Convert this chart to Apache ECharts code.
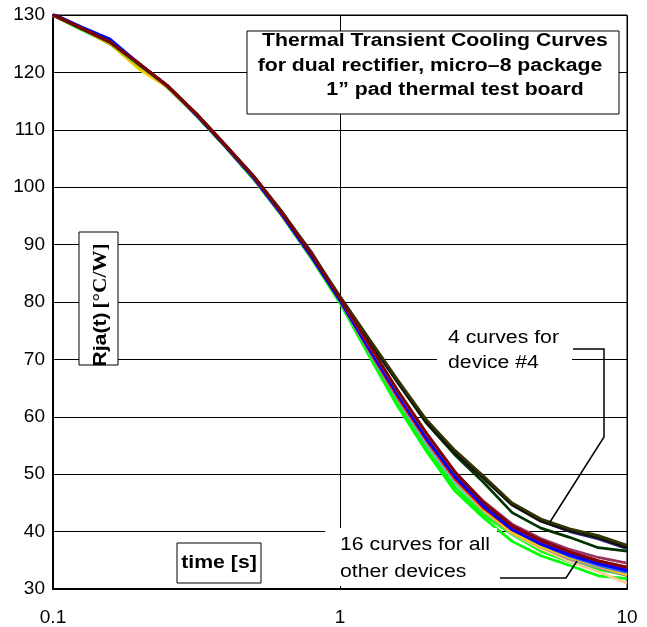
<!DOCTYPE html>
<html>
<head>
<meta charset="utf-8">
<script src="https://cdn.jsdelivr.net/npm/echarts@6/dist/echarts.min.js"></script>
<style>
  html, body { margin: 0; padding: 0; background: #fff; }
  #chart { width: 647px; height: 627px; }
</style>
</head>
<body>
<div id="chart"></div>
<script>
// time samples [s]
const times = [0.1, 0.126, 0.158, 0.2, 0.251, 0.316, 0.398, 0.501, 0.631, 0.794, 1, 1.26, 1.58, 2, 2.51, 3.16, 3.98, 5.01, 6.31, 7.94, 10];

// 16 curves for all other devices
const greenA = [130.0, 127.5, 125.0, 121.2, 117.3, 112.4, 107.0, 101.3, 94.8, 87.6, 79.8, 70.7, 62.0, 54.0, 47.1, 42.4, 38.3, 35.8, 34.1, 32.3, 31.8];
const greenB = [129.9, 127.4, 125.1, 121.1, 117.4, 112.5, 107.1, 101.4, 94.9, 87.8, 80.0, 71.0, 62.4, 54.4, 47.8, 42.9, 39.5, 36.6, 34.7, 33.4, 32.4];
const red = [130.0, 127.7, 125.3, 121.4, 117.6, 112.7, 107.3, 101.7, 95.2, 88.0, 80.3, 71.7, 63.6, 55.9, 49.2, 44.1, 40.3, 38.1, 36.3, 34.9, 33.7];
const blue = [130.2, 127.9, 125.8, 121.5, 117.6, 112.5, 107.1, 101.5, 95.0, 87.9, 80.2, 71.9, 64.0, 56.2, 49.6, 44.4, 40.3, 37.8, 35.9, 34.4, 33.2];
const maroon = [130.1, 127.7, 125.3, 121.5, 117.7, 112.8, 107.4, 101.9, 95.4, 88.3, 80.7, 72.7, 64.8, 57.2, 50.5, 45.1, 41.0, 38.5, 36.5, 34.9, 33.8];
const mauve = [130.0, 127.6, 125.3, 121.4, 117.5, 112.7, 107.3, 101.7, 95.3, 88.8, 80.6, 72.5, 64.6, 57.0, 50.4, 45.3, 41.3, 38.8, 36.9, 35.5, 34.5];
const orange = [130.0, 127.5, 125.2, 121.6, 117.4, 112.6, 107.2, 101.6, 95.0, 88.1, 80.4, 72.2, 64.4, 56.7, 50.1, 45.0, 41.0, 38.5, 36.4, 34.8, 33.5];
const grey = [129.9, 127.6, 125.1, 121.3, 117.4, 112.5, 107.1, 101.5, 95.0, 87.9, 80.2, 71.4, 63.2, 55.2, 48.6, 43.6, 39.7, 37.3, 35.2, 33.7, 32.3];
const tan = [130.0, 127.6, 125.2, 121.3, 117.5, 112.6, 107.2, 101.5, 95.1, 88.0, 80.3, 71.6, 63.4, 55.5, 48.8, 43.6, 39.6, 37.0, 34.8, 33.0, 31.0];
const yellowGreen = [130.0, 127.6, 124.9, 121.0, 117.6, 112.8, 107.2, 101.6, 95.1, 87.9, 80.3, 71.8, 63.7, 56.0, 49.4, 44.4, 40.5, 38.2, 36.3, 34.9, 33.8];
const gold = [130.0, 127.6, 125.0, 120.5, 117.4, 112.5, 107.1, 101.5, 95.0, 87.9, 80.3, 72.0, 63.9, 56.0, 49.1, 43.8, 39.8, 37.4, 35.5, 34.0, 32.5];
const purple = [130.0, 127.7, 125.3, 121.5, 117.6, 112.7, 107.3, 101.7, 95.2, 88.1, 80.5, 72.4, 64.4, 56.7, 50.0, 44.7, 40.7, 38.2, 36.1, 34.6, 33.4];
const royalBlue = [130.0, 127.6, 125.2, 121.3, 117.5, 112.6, 107.2, 101.6, 95.1, 88.0, 80.4, 72.1, 64.0, 56.1, 49.3, 44.2, 40.4, 37.8, 35.7, 34.1, 32.9];
const pink = [130.0, 127.5, 125.1, 121.2, 117.4, 112.5, 107.1, 101.5, 95.0, 87.9, 80.3, 71.7, 63.6, 55.8, 49.1, 43.9, 40.1, 37.7, 35.6, 34.0, 32.6];
const teal = [130.0, 127.6, 125.2, 121.2, 117.5, 112.5, 107.1, 101.5, 95.0, 87.9, 80.2, 71.5, 63.3, 55.4, 48.7, 43.7, 40.0, 37.6, 35.6, 34.0, 32.7];
const lightOrange = [130.0, 127.6, 125.2, 121.3, 117.5, 112.6, 107.2, 101.6, 95.1, 88.0, 80.4, 72.3, 64.3, 56.6, 49.9, 44.6, 40.8, 38.4, 36.3, 34.8, 33.6];

// 4 curves for device #4
const dev4Black = [130.1, 127.7, 125.3, 121.4, 117.6, 112.8, 107.4, 101.9, 95.5, 88.5, 80.8, 73.4, 66.3, 59.1, 53.8, 49.3, 44.6, 41.8, 40.1, 38.9, 37.2];
const dev4Olive = [130.0, 127.7, 125.3, 121.4, 117.6, 112.8, 107.4, 101.9, 95.6, 88.6, 81.0, 73.7, 66.6, 59.5, 54.2, 49.7, 45.0, 42.2, 40.5, 39.3, 37.6];
const dev4Navy = [130.1, 127.8, 125.4, 121.5, 117.6, 112.8, 107.3, 101.9, 95.5, 88.5, 80.8, 73.5, 66.4, 59.3, 54.0, 49.5, 44.8, 41.9, 40.0, 38.7, 37.0];
const dev4Green = [130.0, 127.6, 125.3, 121.4, 117.6, 112.7, 107.3, 101.8, 95.4, 88.4, 80.7, 73.2, 66.1, 58.9, 53.4, 48.6, 43.3, 40.6, 39.0, 37.2, 36.6];

const yTicks = { min: 30, max: 130, step: 10 };

// draw order: first drawn ends up underneath
const curves = [
  ['greenA', '#00ff00', greenA],
  ['greenB', '#00ff00', greenB],
  ['tan', '#ffcc99', tan],
  ['grey', '#969696', grey],
  ['teal', '#33cccc', teal],
  ['pink', '#ff99cc', pink],
  ['gold', '#ffcc00', gold],
  ['yellowGreen', '#99cc00', yellowGreen],
  ['royalBlue', '#3366ff', royalBlue],
  ['lightOrange', '#ff9900', lightOrange],
  ['red', '#ff0000', red],
  ['orange', '#ff6600', orange],
  ['purple', '#800080', purple],
  ['blue', '#0000ff', blue],
  ['mauve', '#993366', mauve],
  ['dev4Green', '#003300', dev4Green],
  ['dev4Navy', '#333399', dev4Navy],
  ['dev4Black', '#111111', dev4Black],
  ['dev4Olive', '#333300', dev4Olive],
  ['maroon', '#800000', maroon]
];

const sans = 'Liberation Sans, Arial, sans-serif';
const serif = 'Liberation Serif, Times New Roman, serif';
const stretch = 1.18;

const chart = echarts.init(document.getElementById('chart'), null, { renderer: 'canvas' });

const txt = (x, y, text, opts) => Object.assign({
  type: 'text',
  x: x,
  y: y,
  z: 20,
  scaleX: stretch,
  style: Object.assign({
    text: text,
    fill: '#000',
    font: '18px ' + sans,
    textAlign: 'left',
    textVerticalAlign: 'middle'
  }, opts && opts.style)
}, opts && opts.el);

const box = (x, y, w, h, stroke) => ({
  type: 'rect',
  z: 10,
  shape: { x: x, y: y, width: w, height: h },
  style: { fill: '#fff', stroke: stroke ? '#000' : null, lineWidth: 1 }
});

const option = {
  animation: false,
  backgroundColor: '#fff',
  grid: {
    left: 53,
    right: 20,
    top: 15,
    bottom: 38,
    show: true,
    borderColor: '#000',
    borderWidth: 1,
    backgroundColor: 'transparent'
  },
  xAxis: {
    type: 'log',
    logBase: 10,
    min: 0.1,
    max: 10,
    axisLine: { show: true, lineStyle: { color: '#000', width: 2 } },
    axisTick: { show: false },
    minorTick: { show: false },
    splitLine: { show: true, lineStyle: { color: '#000', width: 1 } },
    axisLabel: {
      color: '#000',
      fontFamily: sans,
      fontSize: 19,
      margin: 19,
      formatter: v => String(+v.toPrecision(3))
    }
  },
  yAxis: {
    type: 'value',
    min: yTicks.min,
    max: yTicks.max,
    interval: yTicks.step,
    axisLine: { show: true, lineStyle: { color: '#000', width: 2 } },
    axisTick: { show: false },
    splitLine: { show: true, lineStyle: { color: '#000', width: 1 } },
    axisLabel: {
      color: '#000',
      fontFamily: sans,
      fontSize: 19,
      margin: 8
    }
  },
  series: curves.map(([name, color, vals]) => ({
    name: name,
    type: 'line',
    data: times.map((t, i) => [t, vals[i]]),
    symbol: 'none',
    silent: true,
    z: 2,
    lineStyle: { color: color, width: 2.7, join: 'round' }
  })),
  graphic: [
    // title box
    box(247, 31, 372, 83, true),
    txt(435, 41, 'Thermal Transient Cooling Curves', { style: { font: 'bold 18px ' + sans, textAlign: 'center' } }),
    txt(430, 66, 'for dual rectifier, micro\u20138 package', { style: { font: 'bold 18px ' + sans, textAlign: 'center' } }),
    txt(455, 90, '1\u201d pad thermal test board', { style: { font: 'bold 18px ' + sans, textAlign: 'center' } }),

    // y axis title box
    box(79, 232, 39, 133, true),
    {
      type: 'text',
      x: 101,
      y: 305,
      z: 20,
      rotation: Math.PI / 2,
      scaleX: stretch,
      style: {
        text: '{a|Rja(t)} {b|[\u00b0C/W]}',
        textAlign: 'center',
        textVerticalAlign: 'middle',
        rich: {
          a: { fontFamily: sans, fontWeight: 'bold', fontSize: 18, fill: '#000' },
          b: { fontFamily: serif, fontWeight: 'bold', fontSize: 18, fill: '#000' }
        }
      }
    },

    // x axis title box
    box(177, 543, 84, 40, true),
    txt(219, 563, 'time [s]', { style: { font: 'bold 18px ' + sans, textAlign: 'center' } }),

    // annotation: device #4
    box(437, 326, 135, 48, false),
    txt(448, 338, '4 curves for'),
    txt(448, 363, 'device #4'),
    {
      type: 'polyline',
      z: 15,
      shape: { points: [[573, 349], [604, 349], [604, 437], [550, 522]] },
      style: { stroke: '#000', lineWidth: 1.5, fill: null }
    },

    // annotation: other devices
    box(325, 528, 172, 58, false),
    txt(340, 545, '16 curves for all'),
    txt(340, 572, 'other devices'),
    {
      type: 'polyline',
      z: 15,
      shape: { points: [[500, 578], [566, 578], [577, 561]] },
      style: { stroke: '#000', lineWidth: 1.5, fill: null }
    }
  ]
};

chart.setOption(option);
</script>
</body>
</html>
